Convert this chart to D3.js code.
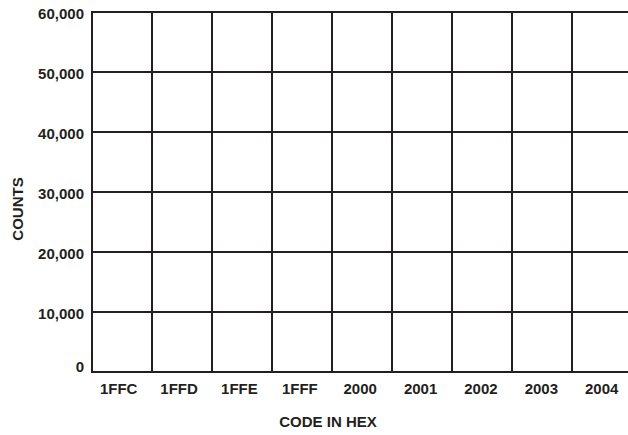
<!DOCTYPE html>
<html><head><meta charset="utf-8">
<script src="https://cdn.jsdelivr.net/npm/d3@7"></script>
<style>
html,body{margin:0;padding:0;background:#fff;}
text{font-family:"Liberation Sans",Arial,sans-serif;font-weight:bold;fill:#231f20;}
</style></head>
<body><svg id="chart" width="628" height="435"></svg>
<script>
const categories = ["1FFC","1FFD","1FFE","1FFF","2000","2001","2002","2003","2004"];
const counts = [null,null,null,null,null,null,null,null,null];
const yTicks = [0,10000,20000,30000,40000,50000,60000];
const yMax = 60000;

(function(){
const svg = d3.select("#chart");
const mLeft = 92, mTop = 12, mBottom = 372, mRight = 632;
const ink = "#231f20";

const x = d3.scaleBand().domain(categories).range([mLeft, mRight]).padding(0);
const xl = d3.scalePoint().domain(categories).range([118.7, 601.7]);
const y = d3.scaleLinear().domain([0, yMax]).range([mBottom, mTop]);

const grid = svg.append("g");
grid.selectAll("line.h").data(yTicks).join("line").attr("class","h")
  .attr("x1", mLeft - 1).attr("x2", mRight)
  .attr("y1", d => y(d)).attr("y2", d => y(d))
  .attr("stroke", ink).attr("stroke-width", 2);
grid.selectAll("line.v").data(categories).join("line").attr("class","v")
  .attr("x1", d => x(d)).attr("x2", d => x(d))
  .attr("y1", mTop - 1).attr("y2", mBottom + 1)
  .attr("stroke", ink).attr("stroke-width", 2);

svg.append("g").selectAll("text").data(yTicks).join("text")
  .attr("x", 84).attr("y", d => y(d) + (d === 0 ? 0 : 6.5))
  .attr("text-anchor", "end").attr("font-size", 15)
  .text(d => d3.format(",")(d));

svg.append("g").selectAll("text").data(categories).join("text")
  .attr("x", d => xl(d)).attr("y", 394)
  .attr("text-anchor", "middle").attr("font-size", 15)
  .text(d => d);

svg.append("g").selectAll("rect").data(categories.map((c,i)=>({c, v:counts[i]})).filter(d=>d.v!=null)).join("rect")
  .attr("x", d => x(d.c)).attr("width", x.bandwidth())
  .attr("y", d => y(d.v)).attr("height", d => mBottom - y(d.v)).attr("fill", ink);

svg.append("text").attr("x", 328).attr("y", 427).attr("text-anchor","middle")
  .attr("font-size", 15).text("CODE IN HEX");
svg.append("text").attr("transform","translate(22.5,209) rotate(-90)").attr("text-anchor","middle")
  .attr("font-size", 15).text("COUNTS");
})();
</script></body></html>
